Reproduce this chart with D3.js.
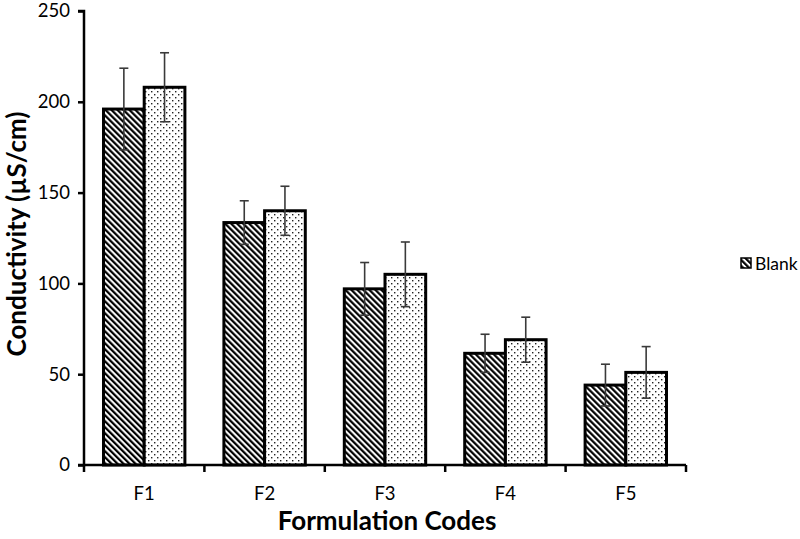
<!DOCTYPE html>
<html><head><meta charset="utf-8">
<script src="https://cdn.jsdelivr.net/npm/d3@7"></script>
<style>body{margin:0;background:#fff}svg{display:block}</style>
</head><body>
<script>
const categories = ["F1","F2","F3","F4","F5"];
const seriesNames = ["Blank","Formulation"];
const blankValues = [196, 133.5, 97, 61.5, 44];
const blankErrors = [22.5, 12, 14.5, 10.5, 11.5];
const formValues = [208, 140, 105, 69, 51];
const formErrors = [19, 13.5, 17.8, 12.4, 14.2];
const yTicks = [0, 50, 100, 150, 200, 250];
const legendItems = ["Blank"];

const W = 800, H = 539;
const svg = d3.select("body").append("svg").attr("width", W).attr("height", H);
const defs = svg.append("defs");
const hatch = defs.append("pattern").attr("id","hatch").attr("patternUnits","userSpaceOnUse")
  .attr("width",4.24).attr("height",4.24).attr("patternTransform","rotate(-45)");
hatch.append("rect").attr("width",4.24).attr("height",4.24).attr("fill","#fff");
hatch.append("rect").attr("width",2.2).attr("height",4.24).attr("fill","#000");
const dots = defs.append("pattern").attr("id","dots").attr("patternUnits","userSpaceOnUse")
  .attr("width",6).attr("height",6);
dots.append("rect").attr("width",6).attr("height",6).attr("fill","#fff");
dots.append("rect").attr("x",1).attr("y",1).attr("width",1.4).attr("height",1.4).attr("fill","#222");
dots.append("rect").attr("x",4).attr("y",4).attr("width",1.4).attr("height",1.4).attr("fill","#222");

const fills = ["url(#hatch)","url(#dots)"];
const x0 = 84, x1 = 686, yBottom = 465, yTop = 11;
const x = d3.scaleBand().domain(categories).range([x0, x1]).paddingInner(0).paddingOuter(0);
const bw = x.bandwidth();
const xs = d3.scaleBand().domain(seriesNames).range([0.162*bw, 0.838*bw]).padding(0);
const y = d3.scaleLinear().domain([0, 250]).range([yBottom, yTop]);

const data = [];
categories.forEach((c,i)=>{
  data.push({cat:c, s:seriesNames[0], v:blankValues[i], e:blankErrors[i], k:0});
  data.push({cat:c, s:seriesNames[1], v:formValues[i], e:formErrors[i], k:1});
});

svg.selectAll("rect.bar").data(data).enter().append("rect").attr("class","bar")
  .attr("x", d=>x(d.cat)+xs(d.s)).attr("width", xs.bandwidth())
  .attr("y", d=>y(d.v)).attr("height", d=>y(0)-y(d.v))
  .attr("fill", d=>fills[d.k]).attr("stroke","#000").attr("stroke-width",3);

const eg = svg.append("g").attr("stroke","#3a3a3a").attr("stroke-width",1.6);
data.forEach(d=>{
  const cx = x(d.cat)+xs(d.s)+xs.bandwidth()/2;
  eg.append("line").attr("x1",cx).attr("x2",cx).attr("y1",y(d.v+d.e)).attr("y2",y(d.v-d.e));
  eg.append("line").attr("x1",cx-4.5).attr("x2",cx+4.5).attr("y1",y(d.v+d.e)).attr("y2",y(d.v+d.e));
  eg.append("line").attr("x1",cx-4.5).attr("x2",cx+4.5).attr("y1",y(d.v-d.e)).attr("y2",y(d.v-d.e));
});

// Y axis
const yAxis = d3.axisLeft(y).tickValues(yTicks).tickSize(6).tickPadding(8);
const yg = svg.append("g").attr("transform",`translate(${x0},0)`).call(yAxis);
yg.select(".domain").attr("stroke","#000").attr("stroke-width",2.5).attr("d",`M-6,${yTop}H0V${yBottom}H-6`);
yg.selectAll(".tick line").attr("stroke","#000").attr("stroke-width",2.5);
yg.selectAll(".tick text").attr("font-family","Lato, sans-serif").attr("font-size",18.5).attr("fill","#000");

// X axis
const xAxisScale = d3.scaleLinear().domain([0,5]).range([x0,x1]);
const xg = svg.append("g").attr("transform",`translate(0,${yBottom})`);
xg.append("line").attr("x1",x0).attr("x2",x1).attr("stroke","#000").attr("stroke-width",2.5);
d3.range(0,6).forEach(i=>{
  xg.append("line").attr("x1",xAxisScale(i)).attr("x2",xAxisScale(i)).attr("y1",0).attr("y2",7).attr("stroke","#000").attr("stroke-width",2.5);
});
xg.selectAll("text.cl").data(categories).enter().append("text").attr("class","cl")
  .attr("x", d=>x(d)+bw/2).attr("y", 35).attr("text-anchor","middle")
  .attr("font-family","Lato, sans-serif").attr("font-size",18.5).attr("fill","#000").text(d=>d);

svg.append("text").attr("x", 387).attr("y", 530).attr("text-anchor","middle")
  .attr("font-family","Lato, sans-serif").attr("font-weight","bold").attr("font-size",26).text("Formulation Codes");
svg.append("text").attr("transform","translate(26,234) rotate(-90)").attr("text-anchor","middle")
  .attr("font-family","Lato, sans-serif").attr("font-weight","bold").attr("font-size",26).text("Conductivity (µS/cm)");

// Legend
const lg = svg.append("g");
legendItems.forEach((name,i)=>{
  lg.append("rect").attr("x",741).attr("y",258+i*24).attr("width",10).attr("height",10)
    .attr("fill",fills[i]).attr("stroke","#000").attr("stroke-width",1.5);
  lg.append("text").attr("x",755).attr("y",270+i*24).attr("font-family","Lato, sans-serif")
    .attr("font-size",17.5).attr("fill","#000").text(name);
});
</script>
</body></html>
